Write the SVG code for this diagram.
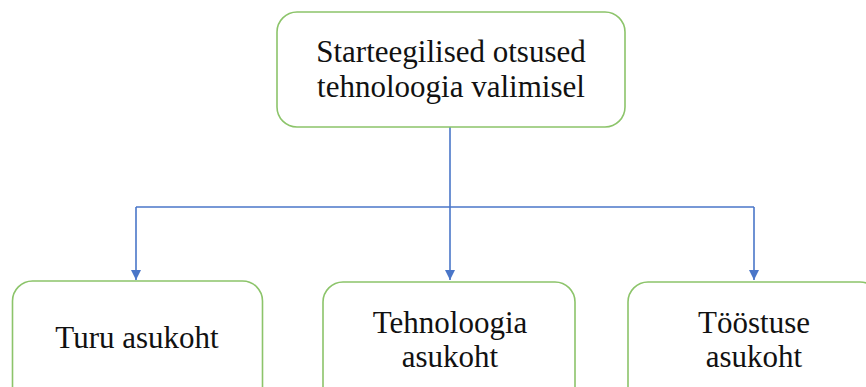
<svg xmlns="http://www.w3.org/2000/svg" width="866" height="387" viewBox="0 0 866 387">
  <style>
    .box { fill: #ffffff; stroke: #8cc46a; stroke-width: 1.6; }
    .label { font-family: "Liberation Serif", "Times New Roman", serif; font-size: 31px; fill: #111111; text-anchor: middle; }
    .link { fill: none; stroke: #4a76c8; stroke-width: 1.6; }
  </style>
  <defs>
    <marker id="arrow" viewBox="0 0 10 10" refX="10" refY="5" markerWidth="10" markerHeight="10" markerUnits="userSpaceOnUse" orient="auto">
      <path d="M0,0 L10,5 L0,10 Z" fill="#4a76c8"/>
    </marker>
  </defs>
  <rect width="866" height="387" fill="#ffffff"/>

  <g id="connectors">
    <path class="link" d="M450,127 V207"/>
    <path class="link" d="M136,207 H754"/>
    <path class="link" d="M136,207 V280" marker-end="url(#arrow)"/>
    <path class="link" d="M450,207 V280" marker-end="url(#arrow)"/>
    <path class="link" d="M754,207 V280" marker-end="url(#arrow)"/>
  </g>

  <g id="strategic-decisions">
    <rect class="box" x="277" y="12" width="348" height="115" rx="20" ry="20"/>
    <text class="label" x="451" y="62">Starteegilised otsused</text>
    <text class="label" x="451" y="97">tehnoloogia valimisel</text>
  </g>

  <g id="market-location">
    <rect class="box" x="12.5" y="281" width="250" height="130" rx="20" ry="20"/>
    <text class="label" x="137" y="348">Turu asukoht</text>
  </g>

  <g id="technology-location">
    <rect class="box" x="323" y="282" width="252" height="130" rx="20" ry="20"/>
    <text class="label" x="450" y="333">Tehnoloogia</text>
    <text class="label" x="450" y="367">asukoht</text>
  </g>

  <g id="industry-location">
    <rect class="box" x="628" y="282" width="252" height="130" rx="20" ry="20"/>
    <text class="label" x="754" y="333">Tööstuse</text>
    <text class="label" x="754" y="367">asukoht</text>
  </g>
</svg>
